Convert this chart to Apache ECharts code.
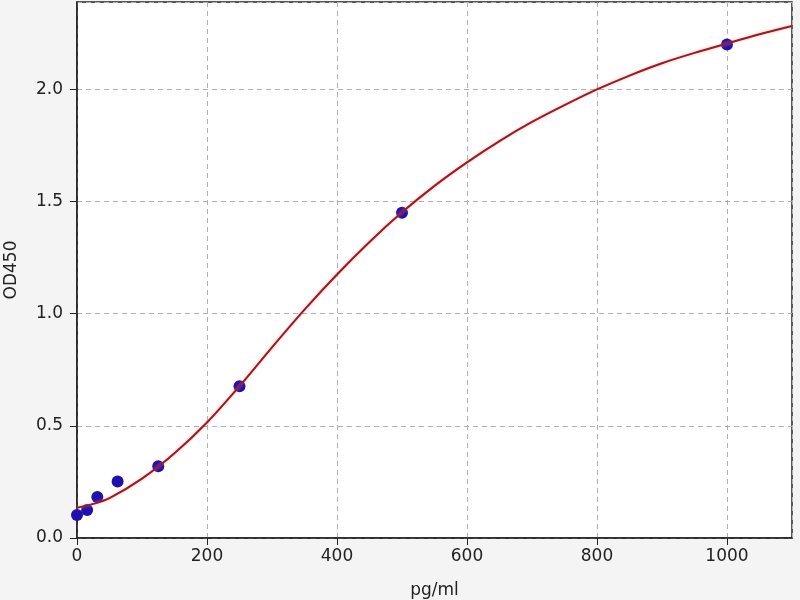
<!DOCTYPE html>
<html>
<head>
<meta charset="utf-8">
<script src="https://cdn.jsdelivr.net/npm/echarts@6/dist/echarts.min.js"></script>
<style>
  html, body { margin: 0; padding: 0; background: #f4f4f4; }
  #chart { width: 800px; height: 600px; }
</style>
</head>
<body>
<div id="chart"></div>
<script>
// standards (pg/ml) and measured OD450
const stdConc = [0, 15.6, 31.25, 62.5, 125, 250, 500, 1000];
const stdOD = [0.103, 0.125, 0.183, 0.252, 0.32, 0.677, 1.45, 2.2];

// fitted curve
const curveX = [0, 25, 50, 100, 150, 200, 250, 300, 350, 400, 450, 500, 550, 600, 650, 700, 750, 800, 850, 900, 950, 1000, 1050, 1100];
const curveY = [0.135, 0.152, 0.178, 0.265, 0.378, 0.515, 0.677, 0.85, 1.018, 1.175, 1.32, 1.452, 1.57, 1.675, 1.77, 1.855, 1.93, 2.0, 2.062, 2.117, 2.163, 2.205, 2.246, 2.283];

const chartDom = document.getElementById('chart');
const myChart = echarts.init(chartDom);

const font = 'DejaVu Sans';

const option = {
    backgroundColor: '#f4f4f4',
    animation: false,
    grid: {
        left: 77,
        right: 8,
        top: 2,
        bottom: 62,
        outerBoundsMode: 'none',
        show: true,
        backgroundColor: '#ffffff',
        borderColor: '#222',
        borderWidth: 1.5
    },
    xAxis: {
        type: 'value',
        min: 0,
        max: 1100,
        interval: 200,
        name: 'pg/ml',
        nameLocation: 'middle',
        nameGap: 44,
        nameTextStyle: { fontFamily: font, fontSize: 17, color: '#222' },
        axisLine: { show: true, lineStyle: { color: '#222', width: 1.5 } },
        axisTick: { show: true, length: 7, lineStyle: { color: '#222' } },
        axisLabel: {
            fontFamily: font, fontSize: 17, color: '#222', margin: 10, showMaxLabel: false,
            formatter: v => String(v)
        },
        splitLine: { show: true, lineStyle: { color: '#b0b0b0', type: [5, 4], width: 1 } }
    },
    yAxis: {
        type: 'value',
        min: 0,
        max: 2.39,
        interval: 0.5,
        name: 'OD450',
        nameLocation: 'middle',
        nameGap: 57,
        nameTextStyle: { fontFamily: font, fontSize: 17, color: '#222' },
        axisLine: { show: true, lineStyle: { color: '#222', width: 1.5 } },
        axisTick: { show: true, length: 7, lineStyle: { color: '#222' } },
        axisLabel: {
            fontFamily: font, fontSize: 17, color: '#222', margin: 14, showMaxLabel: false,
            formatter: v => v.toFixed(1)
        },
        splitLine: { show: true, lineStyle: { color: '#b0b0b0', type: [5, 4], width: 1 } }
    },
    series: [
        {
            name: 'fit',
            type: 'line',
            data: curveX.map((x, i) => [x, curveY[i]]),
            smooth: 0.3,
            showSymbol: false,
            z: 3,
            lineStyle: {
                color: '#9a1a1e',
                width: 2,
                shadowColor: 'rgba(255,130,140,0.6)',
                shadowBlur: 3
            }
        },
        {
            name: 'standards',
            type: 'scatter',
            data: stdConc.map((x, i) => [x, stdOD[i]]),
            symbolSize: 12,
            z: 2,
            itemStyle: { color: '#2010b0', opacity: 1 }
        }
    ]
};

myChart.setOption(option);
</script>
</body>
</html>
